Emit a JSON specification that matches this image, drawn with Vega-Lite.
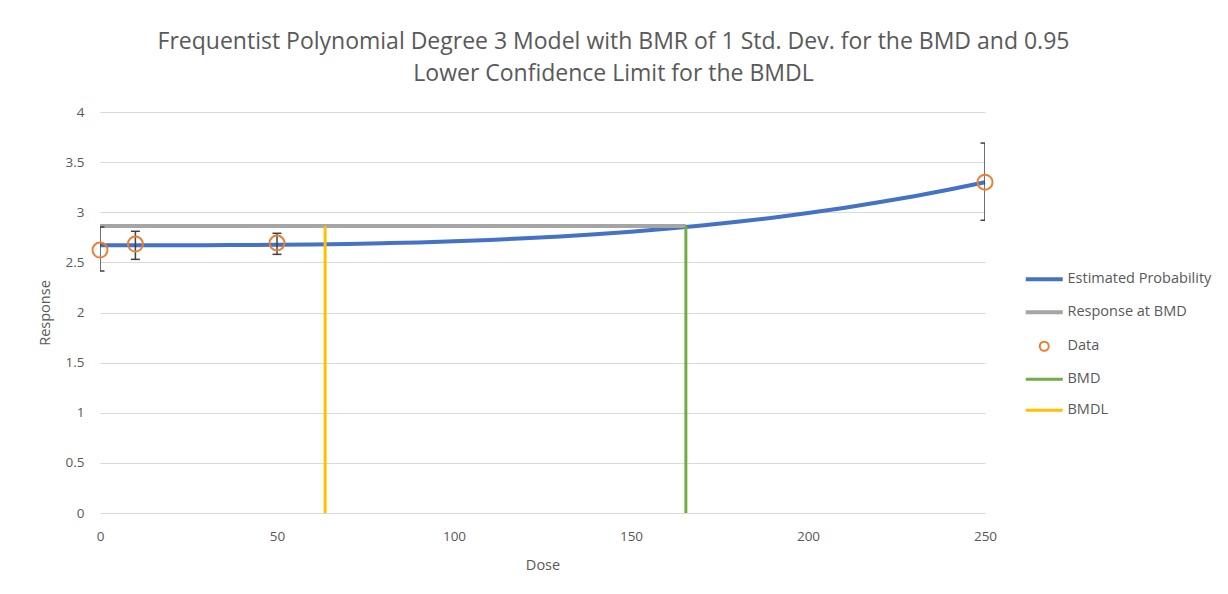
{
  "$schema": "https://vega.github.io/schema/vega-lite/v6.json",
  "autosize": "none",
  "width": 885,
  "height": 401,
  "padding": {"left": 100, "top": 112, "right": 243, "bottom": 81},
  "background": "white",
  "config": {
    "font": "Open Sans",
    "view": {"stroke": null},
    "axis": {"labelColor": "#595959", "labelFontSize": 13.5, "titleColor": "#595959", "titleFontSize": 14.5, "titleFontWeight": "normal", "domain": false, "ticks": false, "gridColor": "#D9D9D9", "gridWidth": 1, "labelFlush": false},
    "legend": {"labelColor": "#595959", "labelFontSize": 14.5, "labelFont": "Open Sans"}
  },
  "title": {
    "text": ["Frequentist Polynomial Degree 3 Model with BMR of 1 Std. Dev. for the BMD and 0.95", "Lower Confidence Limit for the BMDL"],
    "fontSize": 23, "fontWeight": "normal", "color": "#595959", "lineHeight": 32, "anchor": "middle", "dx": 71, "offset": 19, "font": "Open Sans"
  },
  "datasets": {
    "curve": [
      {"dose": 0, "response": 2.670}, {"dose": 10, "response": 2.670}, {"dose": 20, "response": 2.670},
      {"dose": 30, "response": 2.671}, {"dose": 40, "response": 2.673}, {"dose": 50, "response": 2.675},
      {"dose": 60, "response": 2.679}, {"dose": 70, "response": 2.684}, {"dose": 80, "response": 2.691},
      {"dose": 90, "response": 2.699}, {"dose": 100, "response": 2.710}, {"dose": 110, "response": 2.724},
      {"dose": 120, "response": 2.740}, {"dose": 130, "response": 2.759}, {"dose": 140, "response": 2.781},
      {"dose": 150, "response": 2.806}, {"dose": 160, "response": 2.835}, {"dose": 170, "response": 2.868},
      {"dose": 180, "response": 2.905}, {"dose": 190, "response": 2.946}, {"dose": 200, "response": 2.992},
      {"dose": 210, "response": 3.043}, {"dose": 220, "response": 3.099}, {"dose": 230, "response": 3.160},
      {"dose": 240, "response": 3.227}, {"dose": 250, "response": 3.300}
    ],
    "points": [
      {"dose": 0, "response": 2.623, "lo": 2.414, "hi": 2.853},
      {"dose": 10, "response": 2.683, "lo": 2.53, "hi": 2.81},
      {"dose": 50, "response": 2.693, "lo": 2.58, "hi": 2.79},
      {"dose": 250, "response": 3.30, "lo": 2.92, "hi": 3.69}
    ],
    "bmdline": [
      {"dose": 0, "response": 2.863},
      {"dose": 165.5, "response": 2.863}
    ],
    "vlines": [
      {"series": "BMD", "dose": 165.5, "low": 0, "high": 2.863},
      {"series": "BMDL", "dose": 63.6, "low": 0, "high": 2.863}
    ]
  },
  "encoding": {
    "x": {"field": "dose", "type": "quantitative", "scale": {"domain": [0, 250], "nice": false}, "axis": {"values": [0, 50, 100, 150, 200, 250], "grid": false, "title": "Dose", "labelPadding": 16, "titlePadding": 16}},
    "y": {"field": "response", "type": "quantitative", "scale": {"domain": [0, 4], "nice": false}, "axis": {"values": [0, 0.5, 1, 1.5, 2, 2.5, 3, 3.5, 4], "format": "~g", "grid": true, "title": "Response", "labelPadding": 16, "titlePadding": 13}}
  },
  "layer": [
    {
      "data": {"name": "curve"},
      "transform": [{"calculate": "'Estimated Probability'", "as": "series"}],
      "mark": {"type": "line", "strokeWidth": 4, "interpolate": "monotone"},
      "encoding": {
        "color": {"field": "series", "type": "nominal", "scale": {"domain": ["Estimated Probability", "Response at BMD", "Data", "BMD", "BMDL"], "range": ["#4472C4", "#A5A5A5", "#ED7D31", "#70AD47", "#FFC000"]},
          "legend": {"title": null, "orient": "none", "legendX": 937, "legendY": 160, "symbolType": "stroke", "symbolSize": 1369, "rowPadding": 16, "labelOffset": 16,
            "encode": {"symbols": {"update": {
              "shape": {"signal": "datum.value === 'Data' ? 'circle' : 'stroke'"},
              "size": {"signal": "datum.value === 'Data' ? 81 : 1369"},
              "strokeWidth": {"signal": "datum.value === 'Data' ? 2 : ((datum.value === 'BMD' || datum.value === 'BMDL') ? 3 : 4)"},
              "fill": {"value": "transparent"},
              "stroke": {"signal": "scale('color', datum.value)"}
            }}}}}
      }
    },
    {
      "data": {"name": "bmdline"},
      "transform": [{"calculate": "'Response at BMD'", "as": "series"}],
      "mark": {"type": "line", "strokeWidth": 4},
      "encoding": {"color": {"field": "series", "type": "nominal"}}
    },
    {
      "data": {"name": "points"},
      "mark": {"type": "rule", "color": "#404040", "strokeWidth": 1.5, "clip": true},
      "encoding": {"y": {"field": "lo", "type": "quantitative"}, "y2": {"field": "hi"}}
    },
    {
      "data": {"name": "points"},
      "mark": {"type": "point", "shape": "stroke", "size": 81, "color": "#404040", "strokeWidth": 1.5, "clip": true, "opacity": 1},
      "encoding": {"y": {"field": "lo", "type": "quantitative"}}
    },
    {
      "data": {"name": "points"},
      "mark": {"type": "point", "shape": "stroke", "size": 81, "color": "#404040", "strokeWidth": 1.5, "clip": true, "opacity": 1},
      "encoding": {"y": {"field": "hi", "type": "quantitative"}}
    },
    {
      "data": {"name": "points"},
      "transform": [{"calculate": "'Data'", "as": "series"}],
      "mark": {"type": "point", "filled": false, "size": 225, "strokeWidth": 2, "opacity": 1},
      "encoding": {"color": {"field": "series", "type": "nominal"}}
    },
    {
      "data": {"name": "vlines"},
      "mark": {"type": "rule", "strokeWidth": 3},
      "encoding": {"y": {"field": "low", "type": "quantitative"}, "y2": {"field": "high"}, "color": {"field": "series", "type": "nominal"}}
    }
  ]
}
